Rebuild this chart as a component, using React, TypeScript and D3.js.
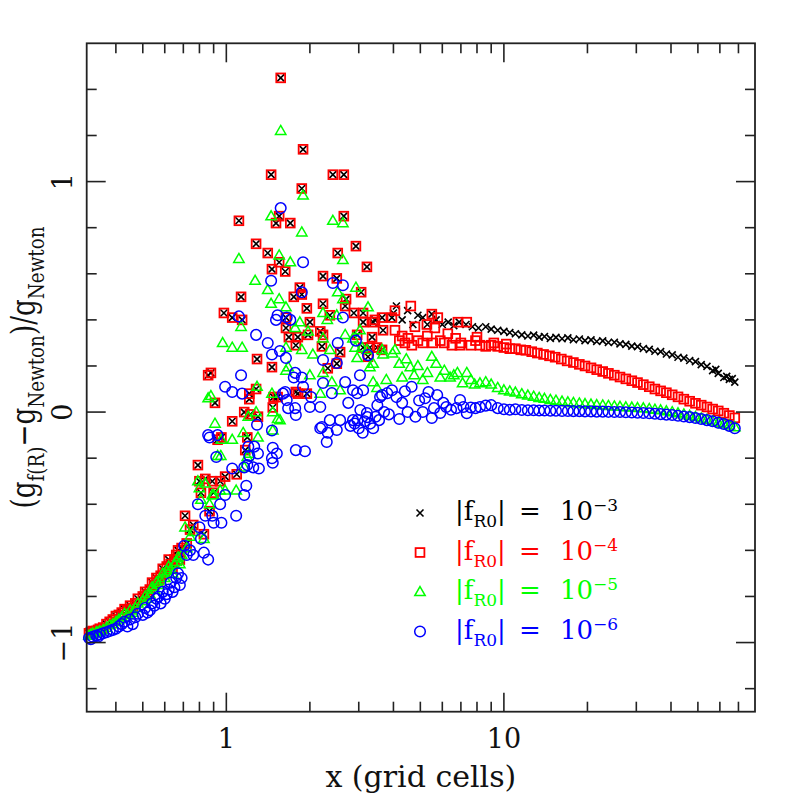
import React from 'react';
import * as d3 from 'd3';

type Pt = [number, number];

// axis ticks
const xMajor = [1, 10];
const xMinor = [0.4, 0.5, 0.6, 0.7, 0.8, 0.9, 2, 3, 4, 5, 6, 7, 8, 9, 20, 30, 40, 50, 60, 70];
const yMajor = [-1, 0, 1];
const yMinor = [-1.2, -0.8, -0.6, -0.4, -0.2, 0.2, 0.4, 0.6, 0.8, 1.2, 1.4];
const yTickText = ['\u22121', '0', '1'];

const legendExp = ['\u22123', '\u22124', '\u22125', '\u22126'];

// |fR0| = 1e-4 and 1e-3 give identical values inside x ~ 4, so they share this part
const squaresInner: Pt[] = [
  [0.32, -0.96], [0.325, -0.955], [0.33, -0.95], [0.34, -0.95], [0.345, -0.945], [0.35, -0.94], [0.36, -0.935],
  [0.37, -0.92], [0.38, -0.91], [0.39, -0.90], [0.40, -0.885], [0.41, -0.88], [0.42, -0.87], [0.43, -0.855],
  [0.44, -0.86], [0.45, -0.84], [0.46, -0.85], [0.47, -0.83], [0.48, -0.81], [0.50, -0.80], [0.51, -0.78],
  [0.52, -0.79], [0.53, -0.77], [0.54, -0.74], [0.55, -0.75], [0.56, -0.72], [0.57, -0.73], [0.58, -0.71],
  [0.59, -0.68], [0.60, -0.70], [0.61, -0.67], [0.62, -0.64], [0.63, -0.66], [0.64, -0.68], [0.65, -0.64],
  [0.66, -0.62], [0.67, -0.60], [0.68, -0.64], [0.69, -0.59],
  [0.71, -0.45], [0.72, -0.57], [0.74, -0.51], [0.76, -0.49], [0.79, -0.23], [0.80, -0.30], [0.81, -0.35],
  [0.83, -0.53], [0.84, -0.29], [0.86, 0.16], [0.87, -0.43], [0.88, 0.17], [0.89, -0.30], [0.90, -0.35],
  [0.91, 0.04], [0.93, -0.12], [0.95, -0.30], [0.96, -0.11], [0.98, 0.43], [0.99, -0.28],
  [1.05, 0.41], [1.05, -0.04], [1.09, -0.27], [1.11, 0.83], [1.13, 0.50], [1.14, 0.40], [1.16, 0.0],
  [1.17, -0.165], [1.19, -0.11], [1.21, 0.08], [1.21, 0.056], [1.22, -0.01], [1.28, 0.73], [1.28, 0.10],
  [1.29, 0.23], [1.30, -0.02], [1.41, 0.69], [1.45, 1.03], [1.46, 0.62], [1.46, 0.195], [1.47, 0.02],
  [1.48, 0.065], [1.51, 0.82], [1.53, 0.065], [1.55, 0.85], [1.55, 0.65], [1.57, 1.45], [1.63, 0.61],
  [1.64, 0.365], [1.64, 0.41], [1.68, 0.325], [1.70, 0.82], [1.75, 0.50], [1.78, 0.29], [1.78, 0.087],
  [1.81, 0.325], [1.81, 0.08], [1.84, 0.54], [1.87, 0.97], [1.87, 0.51], [1.89, 1.14], [1.95, 0.45],
  [1.95, 0.08], [1.97, 0.335], [2.00, 0.39], [2.18, 0.35], [2.21, 0.285], [2.23, 0.59], [2.23, 0.47],
  [2.23, 0.335], [2.32, 0.19], [2.36, 0.42], [2.42, 1.03], [2.50, 0.58], [2.50, 0.21], [2.52, 0.69],
  [2.57, 0.26], [2.65, 1.03], [2.65, 0.85], [2.68, 0.46], [2.70, 0.49], [2.88, 0.43], [2.93, 0.72],
  [2.96, 0.335], [3.06, 0.52], [3.11, 0.43], [3.11, 0.39], [3.11, 0.28], [3.21, 0.63], [3.24, 0.24],
  [3.29, 0.28], [3.35, 0.325], [3.38, 0.39], [3.43, 0.40], [3.49, 0.28], [3.64, 0.41], [3.64, 0.27],
  [3.67, 0.355], [3.95, 0.41],
];

// |fR0| = 1e-4, outer branch
const squaresOuter: Pt[] = [
  [4.05, 0.44], [4.05, 0.355], [4.2, 0.31], [4.30, 0.33], [4.4, 0.30], [4.51, 0.32], [4.62, 0.46],
  [4.66, 0.29], [4.78, 0.37], [4.9, 0.31], [5.1, 0.30], [5.28, 0.38], [5.3, 0.33], [5.50, 0.425],
  [5.55, 0.30], [5.64, 0.365], [5.78, 0.41], [5.9, 0.31], [6.1, 0.30], [6.28, 0.34], [6.5, 0.29],
  [6.7, 0.32], [6.83, 0.39], [6.94, 0.29], [7.0, 0.30], [7.35, 0.39], [7.6, 0.29], [7.9, 0.31],
  [8.0, 0.325], [8.2, 0.29], [8.6, 0.285], [9.0, 0.29], [9.2, 0.30], [9.5, 0.285], [10.0, 0.28],
  [10.2, 0.295], [10.5, 0.275], [11.0, 0.275], [11.5, 0.27], [12.0, 0.268], [12.6, 0.262], [13.2, 0.256],
  [13.9, 0.25], [14.6, 0.244], [15.3, 0.238], [16.1, 0.23], [16.9, 0.222], [17.8, 0.215], [18.7, 0.207],
  [19.6, 0.2], [20.6, 0.192], [21.6, 0.184], [22.7, 0.176], [23.8, 0.168], [25.0, 0.16], [26.2, 0.152],
  [27.5, 0.144], [28.9, 0.136], [30.3, 0.128], [31.8, 0.119], [33.4, 0.11], [35.0, 0.1], [36.7, 0.092],
  [38.5, 0.084], [40.4, 0.075], [42.4, 0.066], [44.5, 0.056], [46.7, 0.047], [49.0, 0.038], [51.4, 0.03],
  [53.9, 0.022], [56.5, 0.013], [59.2, 0.005], [62.0, -0.005], [64.9, -0.015], [67.9, -0.025],
];

// |fR0| = 1e-3, outer branch
const crossesOuter: Pt[] = [
  [4.0, 0.43], [4.1, 0.46], [4.3, 0.40], [4.5, 0.44], [4.7, 0.38], [4.9, 0.42], [5.1, 0.41], [5.3, 0.38],
  [5.5, 0.425], [5.7, 0.40], [6.0, 0.38], [6.3, 0.39], [6.6, 0.375], [6.9, 0.39], [7.3, 0.38], [7.7, 0.37],
  [8.1, 0.365], [8.6, 0.37], [9.0, 0.36], [9.5, 0.355], [10.0, 0.35], [10.5, 0.345], [11.0, 0.34],
  [11.6, 0.335], [12.2, 0.33], [12.8, 0.334], [13.4, 0.325], [14.0, 0.328], [14.7, 0.32], [15.4, 0.324],
  [16.2, 0.318], [17.0, 0.322], [17.8, 0.314], [18.7, 0.317], [19.6, 0.31], [20.6, 0.313], [21.6, 0.306],
  [22.7, 0.309], [23.8, 0.302], [25.0, 0.303], [26.2, 0.296], [27.5, 0.294], [28.9, 0.286], [30.3, 0.284],
  [31.8, 0.276], [33.4, 0.272], [35.0, 0.264], [36.7, 0.262], [38.5, 0.252], [40.4, 0.248], [42.4, 0.238],
  [44.5, 0.234], [46.7, 0.224], [49.0, 0.219], [51.4, 0.206], [53.9, 0.198], [56.5, 0.18], [58.0, 0.185],
  [59.2, 0.168], [62.0, 0.15], [63.5, 0.155], [64.9, 0.142], [66.5, 0.145], [67.9, 0.13],
];

// |fR0| = 1e-5
const triangles: Pt[] = [
  [0.32, -0.97], [0.325, -0.965], [0.33, -0.96], [0.34, -0.955], [0.345, -0.955], [0.35, -0.95], [0.36, -0.945],
  [0.37, -0.935], [0.38, -0.925], [0.39, -0.92], [0.40, -0.91], [0.41, -0.90], [0.42, -0.89], [0.43, -0.875],
  [0.44, -0.88], [0.45, -0.86], [0.46, -0.87], [0.47, -0.85], [0.48, -0.83], [0.50, -0.82], [0.51, -0.80],
  [0.52, -0.81], [0.53, -0.79], [0.54, -0.76], [0.55, -0.77], [0.56, -0.74], [0.57, -0.75], [0.58, -0.73],
  [0.59, -0.70], [0.60, -0.72], [0.61, -0.69], [0.62, -0.67], [0.63, -0.68], [0.64, -0.70], [0.65, -0.66],
  [0.66, -0.65], [0.67, -0.63], [0.68, -0.66], [0.69, -0.62],
  [0.71, -0.50], [0.72, -0.59], [0.74, -0.54], [0.76, -0.52], [0.79, -0.30], [0.80, -0.33], [0.81, -0.38],
  [0.83, -0.55], [0.84, -0.31], [0.86, 0.06], [0.87, -0.40], [0.88, 0.07], [0.89, -0.36], [0.90, -0.36],
  [0.91, -0.05], [0.93, -0.19], [0.95, -0.34], [0.955, -0.19], [0.96, -0.12], [0.97, 0.30], [0.99, -0.34],
  [1.05, 0.28], [1.05, -0.12], [1.085, -0.34], [1.11, 0.665], [1.13, 0.37], [1.14, 0.28], [1.15, -0.09],
  [1.16, -0.24], [1.19, -0.195], [1.20, -0.02], [1.21, -0.18], [1.27, 0.57], [1.28, 0.0], [1.29, 0.11],
  [1.30, -0.11], [1.41, 0.53], [1.45, 0.85], [1.45, 0.47], [1.46, 0.08], [1.47, 0.0], [1.47, -0.08],
  [1.53, -0.03], [1.55, 0.68], [1.55, 0.49], [1.56, -0.035], [1.57, 1.22], [1.64, 0.455], [1.64, 0.28],
  [1.64, 0.18], [1.67, 0.195], [1.70, 0.65], [1.77, 0.365], [1.84, 0.39], [1.87, 0.78], [1.87, 0.27],
  [1.89, 0.94], [1.97, 0.35], [2.00, 0.16], [2.05, 0.25], [2.18, 0.08], [2.23, 0.43], [2.23, 0.32],
  [2.23, 0.17], [2.31, 0.40], [2.36, 0.27], [2.40, 0.13], [2.42, 0.83], [2.50, 0.42], [2.52, 0.52],
  [2.57, 0.095], [2.63, 0.82], [2.63, 0.66], [2.63, 0.49], [2.68, 0.335], [2.86, 0.32], [2.91, 0.28],
  [2.93, 0.54], [2.96, 0.235], [3.03, 0.355], [3.08, 0.28], [3.21, 0.27], [3.24, 0.455], [3.29, 0.195],
  [3.38, 0.21], [3.38, 0.13], [3.49, 0.105], [3.64, 0.27], [3.67, 0.25], [3.77, 0.14], [3.97, 0.255],
  [4.05, 0.27], [4.2, 0.21], [4.3, 0.15], [4.45, 0.23], [4.6, 0.195], [4.75, 0.16], [4.9, 0.20], [5.1, 0.14],
  [5.3, 0.17], [5.5, 0.24], [5.7, 0.21], [5.9, 0.15], [6.1, 0.18], [6.4, 0.15], [6.6, 0.16], [6.8, 0.17],
  [7.1, 0.125], [7.35, 0.17], [7.6, 0.14], [7.85, 0.12], [8.2, 0.125], [8.6, 0.13], [9.0, 0.12], [9.5, 0.105],
  [10.0, 0.095], [10.5, 0.09], [11.0, 0.085], [11.6, 0.078], [12.2, 0.072], [12.8, 0.067], [13.4, 0.062],
  [14.0, 0.058], [14.7, 0.053], [15.4, 0.05], [16.2, 0.046], [17.0, 0.043], [17.8, 0.04], [18.7, 0.038],
  [19.6, 0.035], [20.6, 0.033], [21.6, 0.031], [22.7, 0.029], [23.8, 0.027], [25.0, 0.025], [26.2, 0.023],
  [27.5, 0.021], [28.9, 0.02], [30.3, 0.018], [31.8, 0.017], [33.4, 0.014], [35.0, 0.011], [36.7, 0.008],
  [38.5, 0.004], [40.4, 0.0], [42.4, -0.005], [44.5, -0.01], [46.7, -0.016], [49.0, -0.021], [51.4, -0.027],
  [53.9, -0.033], [56.5, -0.04], [59.2, -0.046], [62.0, -0.052], [64.9, -0.058], [67.9, -0.065],
];

// |fR0| = 1e-6
const circles: Pt[] = [
  [0.32, -0.98], [0.325, -0.985], [0.33, -0.975], [0.34, -0.97], [0.345, -0.975], [0.35, -0.965], [0.36, -0.96],
  [0.37, -0.955], [0.38, -0.95], [0.39, -0.945], [0.40, -0.94], [0.41, -0.93], [0.42, -0.92], [0.43, -0.91],
  [0.44, -0.93], [0.45, -0.90], [0.46, -0.92], [0.47, -0.89], [0.48, -0.875], [0.50, -0.88], [0.51, -0.85],
  [0.52, -0.87], [0.53, -0.86], [0.54, -0.83], [0.55, -0.84], [0.56, -0.81], [0.57, -0.80], [0.58, -0.83],
  [0.59, -0.78], [0.60, -0.81], [0.61, -0.79], [0.62, -0.77], [0.63, -0.74], [0.64, -0.78], [0.65, -0.76],
  [0.66, -0.72], [0.67, -0.70], [0.68, -0.75], [0.69, -0.72],
  [0.705, -0.58], [0.72, -0.62], [0.74, -0.60], [0.76, -0.62], [0.79, -0.40], [0.80, -0.50], [0.81, -0.55],
  [0.83, -0.61], [0.84, -0.45], [0.86, -0.64], [0.86, -0.10], [0.87, -0.11], [0.89, -0.45], [0.90, -0.48],
  [0.92, -0.195], [0.93, -0.10], [0.95, -0.40], [0.96, -0.48], [0.99, 0.11], [0.99, -0.36],
  [1.05, 0.087], [1.05, -0.245], [1.085, -0.45], [1.11, 0.415], [1.13, 0.16], [1.14, 0.08], [1.16, -0.24],
  [1.16, -0.36], [1.18, -0.32], [1.19, -0.23], [1.20, -0.15], [1.21, -0.19], [1.25, -0.24], [1.26, -0.15],
  [1.28, 0.335], [1.29, -0.055], [1.30, -0.18], [1.31, -0.245], [1.41, 0.30], [1.45, 0.57], [1.46, 0.25],
  [1.46, -0.08], [1.46, -0.20], [1.47, -0.155], [1.47, -0.22], [1.51, 0.40], [1.52, -0.18], [1.53, 0.42],
  [1.56, 0.265], [1.57, 0.885], [1.60, 0.08], [1.63, 0.087], [1.64, 0.235], [1.65, 0.41], [1.65, 0.052],
  [1.67, 0.017], [1.70, 0.40], [1.75, 0.15], [1.77, 0.17], [1.77, 0.017], [1.78, -0.013], [1.78, -0.165],
  [1.87, 0.52], [1.87, 0.15], [1.89, 0.65], [1.89, 0.11], [1.92, -0.17], [2.00, 0.022], [2.02, 0.065],
  [2.18, 0.022], [2.18, -0.07], [2.21, -0.065], [2.23, 0.226], [2.23, 0.126], [2.30, -0.13], [2.32, -0.09],
  [2.36, -0.035], [2.40, 0.082], [2.42, 0.56], [2.50, 0.213], [2.50, -0.078], [2.52, 0.30], [2.57, -0.035],
  [2.63, 0.55], [2.63, 0.41], [2.68, 0.13], [2.75, 0.04], [2.80, -0.06], [2.86, 0.095], [2.86, -0.035],
  [2.90, -0.05], [2.93, 0.31], [2.96, 0.082], [2.97, -0.035], [3.0, -0.07], [3.03, 0.16], [3.04, 0.009],
  [3.1, -0.09], [3.11, 0.095], [3.15, -0.04], [3.21, -0.004], [3.22, -0.022], [3.24, 0.247], [3.3, -0.05],
  [3.38, -0.07], [3.45, -0.02], [3.5, 0.03], [3.55, -0.035], [3.58, 0.065], [3.64, 0.074], [3.7, 0.0],
  [3.80, 0.082], [3.85, -0.01], [3.95, 0.095],
  [4.1, 0.065], [4.2, -0.03], [4.3, 0.04], [4.4, 0.09], [4.5, 0.0], [4.65, 0.11], [4.8, -0.02], [4.95, 0.05],
  [5.1, 0.0], [5.2, 0.06], [5.35, 0.087], [5.5, -0.026], [5.6, 0.017], [5.75, 0.074], [5.9, -0.004],
  [6.05, 0.04], [6.2, 0.022], [6.45, 0.01], [6.75, 0.017], [6.95, 0.052], [7.15, 0.022], [7.35, -0.005],
  [7.6, 0.02], [7.9, 0.017], [8.2, 0.022], [8.6, 0.028], [9.0, 0.03], [9.5, 0.017], [10.0, 0.012],
  [10.5, 0.01], [11.0, 0.012], [11.6, 0.009], [12.2, 0.008], [12.8, 0.008], [13.4, 0.007], [14.0, 0.007],
  [14.7, 0.006], [15.4, 0.006], [16.2, 0.005], [17.0, 0.005], [17.8, 0.004], [18.7, 0.004], [19.6, 0.003],
  [20.6, 0.003], [21.6, 0.002], [22.7, 0.002], [23.8, 0.001], [25.0, 0.0], [26.2, 0.0], [27.5, -0.001],
  [28.9, -0.002], [30.3, -0.003], [31.8, -0.004], [33.4, -0.005], [35.0, -0.007], [36.7, -0.009],
  [38.5, -0.011], [40.4, -0.013], [42.4, -0.016], [44.5, -0.019], [46.7, -0.022], [49.0, -0.026],
  [51.4, -0.03], [53.9, -0.035], [56.5, -0.04], [59.2, -0.046], [62.0, -0.052], [64.9, -0.06], [67.9, -0.07],
];

const FONT = '"DejaVu Serif", serif';
const frame = { left: 86.7, right: 755, top: 43.3, bottom: 711.7 };

function Marker({ shape, color, cx, cy }: { shape: string; color: string; cx: number; cy: number }) {
  const t = `translate(${cx},${cy})`;
  if (shape === 'cross')
    return <path transform={t} d="M-3.5,-3.5L3.5,3.5M-3.5,3.5L3.5,-3.5" stroke={color} strokeWidth={1.6} fill="none" />;
  if (shape === 'square')
    return <rect x={cx - 4.4} y={cy - 4.4} width={8.8} height={8.8} stroke={color} strokeWidth={1.8} fill="none" />;
  if (shape === 'triangle')
    return <path transform={t} d="M0,-5.4L5.2,3.6L-5.2,3.6Z" stroke={color} strokeWidth={1.5} fill="none" />;
  return <circle cx={cx} cy={cy} r={5.3} stroke={color} strokeWidth={1.5} fill="none" />;
}

export default function App() {
  const x = d3.scaleLog().domain([0.314, 80.3]).range([frame.left, frame.right]);
  const y = d3.scaleLinear().domain([-1.3, 1.6]).range([frame.bottom, frame.top]);

  const series = [
    { pts: [...squaresInner, ...crossesOuter], shape: 'cross', color: '#000000' },
    { pts: [...squaresInner, ...squaresOuter], shape: 'square', color: '#ff0000' },
    { pts: triangles, shape: 'triangle', color: '#00ff00' },
    { pts: circles, shape: 'circle', color: '#0000ff' },
  ];

  const tickColor = '#222';
  const legendY = d3.scaleLinear().domain([0, 3]).range([513, 631.5]);

  return (
    <svg width={797} height={797} style={{ position: 'absolute', left: 0, top: 0, background: '#fff' }}>
      <rect x={0} y={0} width={797} height={797} fill="#fff" />

      {series.map((s, i) => (
        <g key={i}>
          {s.pts.map((d, j) => (
            <Marker key={j} shape={s.shape} color={s.color} cx={x(d[0])} cy={y(d[1])} />
          ))}
        </g>
      ))}

      {/* frame and ticks on all four sides */}
      <rect x={frame.left} y={frame.top} width={frame.right - frame.left} height={frame.bottom - frame.top}
        fill="none" stroke={tickColor} strokeWidth={1.8} />
      <g stroke={tickColor} strokeWidth={1.6}>
        {[...xMajor.map(v => [v, 19]), ...xMinor.map(v => [v, 10])].map(([v, len], i) => (
          <g key={'x' + i}>
            <line x1={x(v)} x2={x(v)} y1={frame.bottom} y2={frame.bottom - len} />
            <line x1={x(v)} x2={x(v)} y1={frame.top} y2={frame.top + len} />
          </g>
        ))}
        {[...yMajor.map(v => [v, 19]), ...yMinor.map(v => [v, 10])].map(([v, len], i) => (
          <g key={'y' + i}>
            <line x1={frame.left} x2={frame.left + len} y1={y(v)} y2={y(v)} />
            <line x1={frame.right} x2={frame.right - len} y1={y(v)} y2={y(v)} />
          </g>
        ))}
      </g>

      <g fontFamily={FONT} fontSize={27} fill="#111">
        {xMajor.map(v => (
          <text key={v} x={x(v)} y={748} textAnchor="middle">{v}</text>
        ))}
        {yMajor.map((v, i) => (
          <text key={v} transform={`translate(72,${y(v)}) rotate(-90)`} textAnchor="middle">{yTickText[i]}</text>
        ))}
      </g>

      <text x={(frame.left + frame.right) / 2} y={787} textAnchor="middle" fontFamily={FONT} fontSize={30} fill="#111">
        x (grid cells)
      </text>

      {/* the original label is set in tall, narrow glyphs: squeeze it to its length */}
      <text transform={`translate(35,${(frame.top + frame.bottom) / 2 - 10}) rotate(-90)`} textAnchor="middle"
        fontFamily={FONT} fontSize={33} fill="#111" textLength={282} lengthAdjust="spacingAndGlyphs">
        <tspan>(g</tspan>
        <tspan dy={9} fontSize={23}>f(R)</tspan>
        <tspan dy={-9}>{'\u2212'}g</tspan>
        <tspan dy={9} fontSize={23}>Newton</tspan>
        <tspan dy={-9}>)/g</tspan>
        <tspan dy={9} fontSize={23}>Newton</tspan>
      </text>

      {series.map((s, i) => {
        const ly = legendY(i);
        return (
          <g key={'leg' + i} fontFamily={FONT} fill={s.color}>
            <Marker shape={s.shape} color={s.color} cx={420} cy={ly} />
            <text x={455} y={ly + 7} fontSize={26}>
              |f<tspan dy={7} fontSize={17}>R0</tspan><tspan dy={-7}>|</tspan>
            </text>
            <text x={530} y={ly + 7} fontSize={26} textAnchor="middle">=</text>
            <text x={560} y={ly + 7} fontSize={26}>
              10<tspan dy={-9} fontSize={17}>{legendExp[i]}</tspan>
            </text>
          </g>
        );
      })}
    </svg>
  );
}
